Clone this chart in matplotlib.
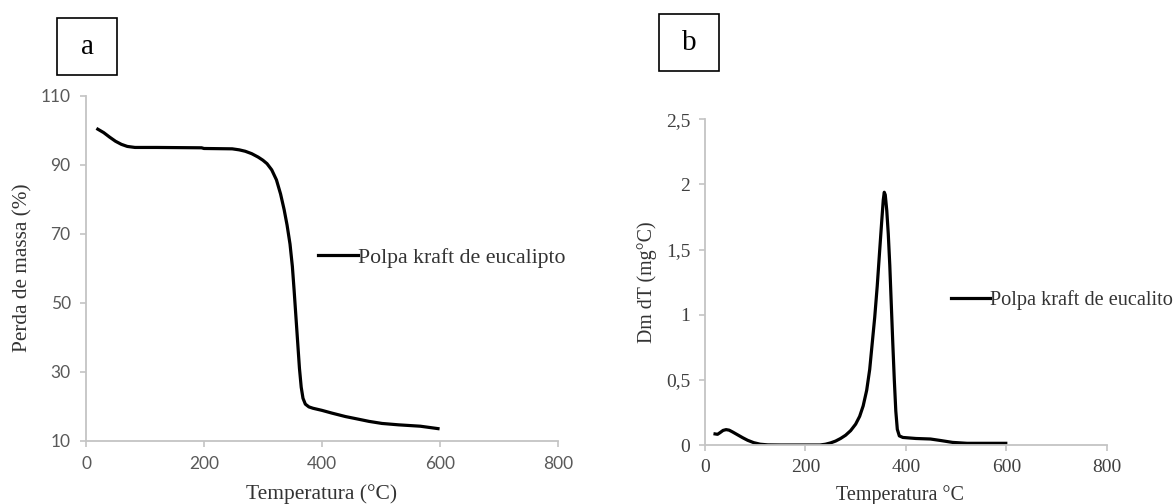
import numpy as np
import matplotlib.pyplot as plt
from matplotlib.patches import Rectangle

plt.rcParams['font.family'] = ['Liberation Serif', 'DejaVu Serif']

# %% DATA
# panel a: TGA curve (mass loss %)
temp_a = [20, 30, 40, 50, 60, 70, 83, 120, 196, 200, 248, 260, 270, 281, 292, 300, 307, 315, 323, 330,
          336, 341, 346, 350, 353, 356, 359, 362, 365, 368, 372, 378, 385, 400, 417, 440, 463, 480, 502,
          530, 567, 597]
mass_a = [100.3, 99.3, 98.0, 96.8, 95.9, 95.3, 95.0, 95.0, 94.9, 94.7, 94.6, 94.3, 93.9, 93.2, 92.2, 91.3,
          90.3, 88.5, 85.6, 81.5, 77.0, 72.5, 67.0, 60.5, 53.5, 46.0, 38.5, 31.0, 25.5, 22.3, 20.6, 19.8,
          19.4, 18.8, 18.0, 17.0, 16.2, 15.6, 15.0, 14.6, 14.2, 13.5]

# panel b: DTG curve
temp_b = [20, 25, 30, 36, 42, 48, 55, 65, 75, 85, 97, 110, 125, 150, 229, 240, 250, 260, 270, 280, 290,
          300, 308, 315, 322, 328, 333, 338, 343, 348, 352, 355, 357, 359, 362, 365, 368, 371, 374, 377,
          380, 383, 387, 394, 420, 449, 470, 493, 522, 599]
dtg_b = [0.085, 0.082, 0.095, 0.112, 0.118, 0.114, 0.10, 0.078, 0.056, 0.036, 0.018, 0.006, 0.001, 0.0,
         0.0, 0.006, 0.016, 0.03, 0.05, 0.075, 0.11, 0.16, 0.22, 0.30, 0.42, 0.58, 0.78, 0.98, 1.22, 1.50,
         1.72, 1.88, 1.94, 1.92, 1.80, 1.62, 1.38, 1.08, 0.78, 0.50, 0.26, 0.12, 0.07, 0.058, 0.05, 0.046,
         0.034, 0.02, 0.013, 0.013]

xticks = [0, 200, 400, 600, 800]
yticks_a = [10, 30, 50, 70, 90, 110]
yticks_b = [0, 0.5, 1, 1.5, 2, 2.5]
yticklabels_b = ['0', '0,5', '1', '1,5', '2', '2,5']

legend_a = 'Polpa kraft de eucalipto'
legend_b = 'Polpa kraft de eucalito'

# %% FIGURE
W, H = 1175, 504
fig = plt.figure(figsize=(W / 100, H / 100), dpi=100)
ax_a = fig.add_axes([86 / W, 1 - 440.7 / H, 471.7 / W, 345 / H])
ax_b = fig.add_axes([705 / W, 1 - 445 / H, 401.7 / W, 325.7 / H])

grey = '#c4c4c4'

def style(ax):
    for s in ['top', 'right']:
        ax.spines[s].set_visible(False)
    for s in ['left', 'bottom']:
        ax.spines[s].set_color(grey)
        ax.spines[s].set_linewidth(1.3)
    ax.tick_params(colors=grey, length=4, width=1.2)

# panel a
ax_a.plot(temp_a, mass_a, color='black', lw=2.3, label=legend_a)
ax_a.set_xlim(0, 800)
ax_a.set_ylim(10, 110)
ax_a.set_xticks(xticks)
ax_a.set_yticks(yticks_a)
style(ax_a)
ax_a.tick_params(axis='x', pad=7)
ax_a.tick_params(axis='y', pad=7)
for lab in ax_a.get_xticklabels() + ax_a.get_yticklabels():
    lab.set_fontfamily('Lato')
    lab.set_fontsize(12.5)
    lab.set_color('#595959')
ax_a.set_xlabel('Temperatura (°C)', fontsize=15.5, color='#333333', va='center')
ax_a.xaxis.set_label_coords(0.5, -0.1545)
ax_a.set_ylabel('Perda de massa (%)', fontsize=15.3, color='#333333', va='center')
ax_a.yaxis.set_label_coords(-0.1336, 0.5)
ax_a.legend(loc='center left', bbox_to_anchor=(317.5 / W, 1 - 257.6 / H), bbox_transform=fig.transFigure,
            frameon=False, fontsize=15.7, handlelength=1.88, handletextpad=0.0,
            borderpad=0, borderaxespad=0, labelcolor='#333333')

# panel b
ax_b.plot(temp_b, dtg_b, color='black', lw=2.3, label=legend_b)
ax_b.set_xlim(0, 800)
ax_b.set_ylim(0, 2.5)
ax_b.set_xticks(xticks)
ax_b.set_yticks(yticks_b)
ax_b.set_yticklabels(yticklabels_b)
style(ax_b)
ax_b.tick_params(axis='x', pad=6, labelsize=14, labelcolor='#404040')
ax_b.tick_params(axis='y', pad=6.5, labelsize=14, labelcolor='#404040')
ax_b.set_xlabel('Temperatura °C', fontsize=14.5, color='#333333', va='center')
ax_b.xaxis.set_label_coords(0.485, -0.1535)
ax_b.set_ylabel('Dm dT (mg°C)', fontsize=14.3, color='#333333', va='center')
ax_b.yaxis.set_label_coords(-0.1444, 0.5)
ax_b.legend(loc='center left', bbox_to_anchor=(951 / W, 1 - 300 / H), bbox_transform=fig.transFigure,
            frameon=False, fontsize=14.6, handlelength=1.9, handletextpad=0.0,
            borderpad=0, borderaxespad=0, labelcolor='#333333')

# panel letters in boxes
for (x0, y0, x1, y1, letter) in [(57, 18, 117, 75, 'a'), (659, 14, 719, 71, 'b')]:
    fig.patches.append(Rectangle((x0 / W, 1 - y1 / H), (x1 - x0) / W, (y1 - y0) / H,
                                 transform=fig.transFigure, fill=False, ec='black', lw=1.2))
    fig.text((x0 + x1) / 2 / W, 1 - (y0 + y1) / 2 / H, letter, ha='center', va='center',
             fontsize=21, color='black')

fig.savefig('out.png', dpi=100)
